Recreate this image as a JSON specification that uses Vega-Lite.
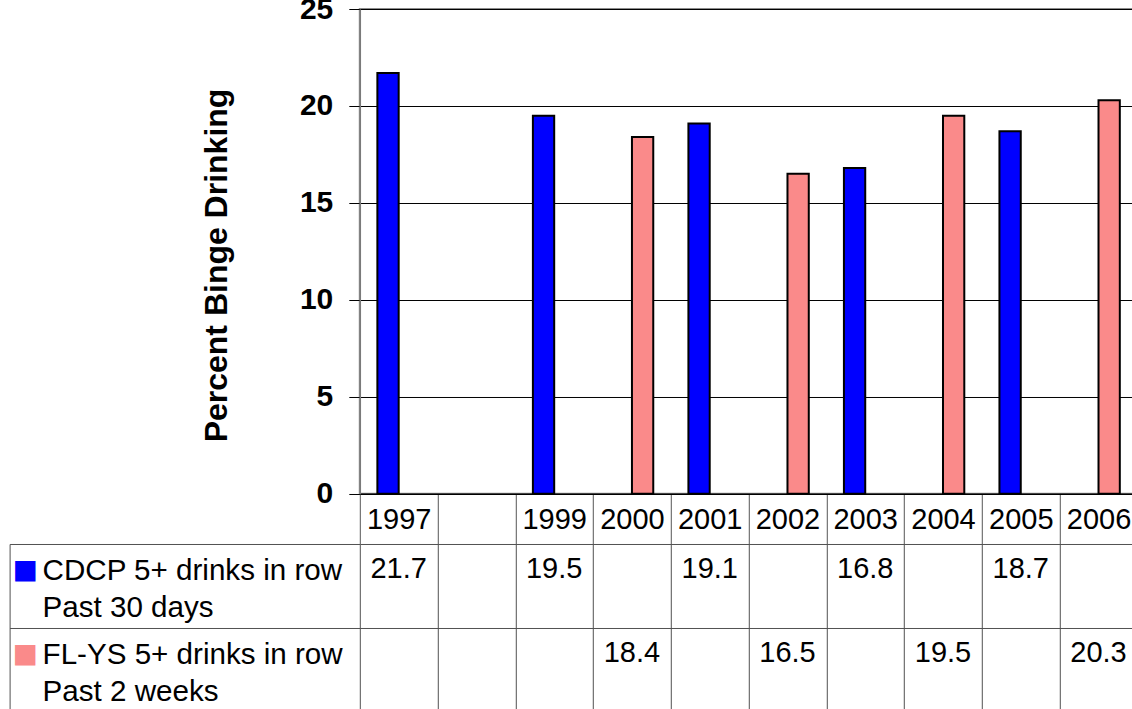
{
  "$schema": "https://vega.github.io/schema/vega-lite/v6.json",
  "background": "white",
  "padding": {"left": 8.8, "top": -7, "right": 0, "bottom": 0},
  "bounds": "flush",
  "spacing": 50,
  "config": {"font": "Liberation Sans"},
  "datasets": {
    "binge": [
      {"year": "1997", "series": "CDCP", "value": 21.7},
      {"year": "1999", "series": "CDCP", "value": 19.5},
      {"year": "2000", "series": "FL-YS", "value": 18.4},
      {"year": "2001", "series": "CDCP", "value": 19.1},
      {"year": "2002", "series": "FL-YS", "value": 16.5},
      {"year": "2003", "series": "CDCP", "value": 16.8},
      {"year": "2004", "series": "FL-YS", "value": 19.5},
      {"year": "2005", "series": "CDCP", "value": 18.7},
      {"year": "2006", "series": "FL-YS", "value": 20.3}
    ]
  },
  "vconcat": [
    {
      "width": 777.6,
      "height": 484.7,
      "data": {"name": "binge"},
      "view": {"stroke": "#8c8c8c", "strokeWidth": 2},
      "mark": {"type": "bar", "stroke": "black", "strokeWidth": 2},
      "encoding": {
        "x": {
          "field": "year",
          "type": "nominal",
          "scale": {"domain": ["1997", "1998", "1999", "2000", "2001", "2002", "2003", "2004", "2005", "2006"], "paddingInner": 0, "paddingOuter": 0},
          "axis": {
            "title": null,
            "labelExpr": "datum.value == '1998' || datum.value == null ? '' : datum.value",
            "labelAngle": 0,
            "labelFont": "Liberation Sans",
            "labelFontSize": 29,
            "labelColor": "black",
            "labelBaseline": "top",
            "labelPadding": -38,
            "tickBand": "extent",
            "tickSize": 50,
            "tickColor": "#555555",
            "tickWidth": 1,
            "domainColor": "black",
            "domainWidth": 1.5
          }
        },
        "xOffset": {
          "field": "series",
          "type": "nominal",
          "scale": {"domain": ["CDCP", "FL-YS"], "paddingInner": 0, "paddingOuter": 0.825}
        },
        "y": {
          "field": "value",
          "type": "quantitative",
          "scale": {"domain": [0, 25], "nice": false},
          "axis": {
            "values": [0, 5, 10, 15, 20, 25],
            "title": "Percent Binge Drinking",
            "titleFont": "Liberation Sans",
            "titleFontSize": 32,
            "titleFontWeight": "bold",
            "titleColor": "black",
            "titlePadding": 66,
            "titleY": 256,
            "grid": true,
            "gridColor": "black",
            "gridWidth": 1,
            "tickColor": "black",
            "tickSize": 11,
            "domainColor": "#7a7a7a",
            "domainWidth": 1.5,
            "labelFont": "Liberation Sans",
            "labelFontSize": 30,
            "labelFontWeight": "bold",
            "labelColor": "black",
            "labelPadding": 16
          }
        },
        "color": {
          "field": "series",
          "type": "nominal",
          "scale": {"domain": ["CDCP", "FL-YS"], "range": ["#0000FF", "#FA8A8A"]},
          "legend": null
        }
      }
    },
    {
      "width": 777.6,
      "height": 167.4,
      "data": {"name": "binge"},
      "view": {"stroke": null},
      "resolve": {"axis": {"y": "independent"}},
      "encoding": {
        "x": {
          "field": "year",
          "type": "nominal",
          "scale": {"domain": ["1997", "1998", "1999", "2000", "2001", "2002", "2003", "2004", "2005", "2006"], "paddingInner": 0, "paddingOuter": 0},
          "axis": {
            "orient": "bottom",
            "title": null,
            "labels": false,
            "ticks": false,
            "domain": false,
            "grid": true,
            "tickBand": "extent",
            "gridColor": "#505050",
            "gridWidth": 1
          }
        }
      },
      "layer": [
        {
          "transform": [{"filter": "datum.series == 'CDCP'"}],
          "mark": {"type": "text", "font": "Liberation Sans", "fontSize": 29, "color": "black", "baseline": "alphabetic"},
          "encoding": {
            "y": {
              "field": "series",
              "type": "nominal",
              "bandPosition": 0.41,
              "scale": {"domain": ["CDCP", "FL-YS"], "paddingInner": 0, "paddingOuter": 0},
              "axis": {
                "orient": "left",
                "title": null,
                "grid": true,
                "gridColor": "#505050",
                "gridWidth": 1,
                "tickBand": "extent",
                "ticks": true,
                "tickSize": 350.2,
                "tickColor": "#505050",
                "tickWidth": 1,
                "domain": false,
                "labelExpr": "datum.value == 'CDCP' ? ['CDCP 5+ drinks in row', 'Past 30 days'] : datum.value == 'FL-YS' ? ['FL-YS 5+ drinks in row', 'Past 2 weeks'] : ''",
                "labelFont": "Liberation Sans",
                "labelFontSize": 29.6,
                "labelColor": "black",
                "labelAlign": "left",
                "labelBaseline": "alphabetic",
                "labelLineHeight": 36.7,
                "labelPadding": -32.5,
                "labelOffset": -6,
                "labelLimit": 600
              }
            },
            "text": {"field": "value", "type": "quantitative", "format": ".1f"}
          }
        },
        {
          "transform": [{"filter": "datum.series == 'FL-YS'"}],
          "mark": {"type": "text", "font": "Liberation Sans", "fontSize": 29, "color": "black", "baseline": "alphabetic"},
          "encoding": {
            "y": {
              "field": "series",
              "type": "nominal",
              "bandPosition": 0.41,
              "scale": {"domain": ["CDCP", "FL-YS"], "paddingInner": 0, "paddingOuter": 0},
              "axis": {
                "orient": "left",
                "offset": 350.2,
                "title": null,
                "grid": false,
                "ticks": false,
                "tickSize": 0,
                "domain": true,
                "domainColor": "#505050",
                "domainWidth": 1,
                "labelExpr": "datum.value == 'CDCP' || datum.value == 'FL-YS' ? '■' : ''",
                "labelFont": "Liberation Sans",
                "labelFontSize": 42,
                "labelColor": {"condition": {"test": "datum.value == 'CDCP'", "value": "#0000FF"}, "value": "#FA8A8A"},
                "labelAlign": "left",
                "labelBaseline": "middle",
                "labelPadding": -2.5,
                "labelOffset": -15,
                "labelLimit": 100
              }
            },
            "text": {"field": "value", "type": "quantitative", "format": ".1f"}
          }
        }
      ]
    }
  ]
}
